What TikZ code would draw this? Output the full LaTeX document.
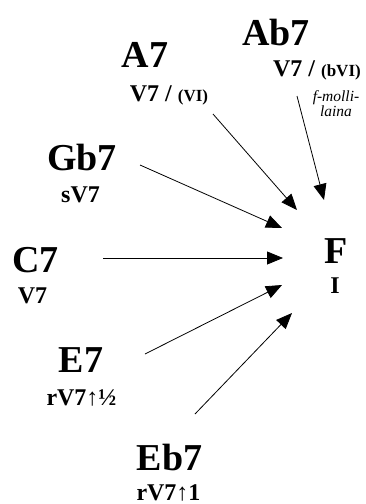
\documentclass[tikz,border=0pt]{standalone}
\usepackage{fontspec}
\setmainfont{Liberation Serif}
\usetikzlibrary{arrows.meta}
\tikzset{
chord/.style = {font = \bfseries\fontsize{38}{40}\selectfont, anchor = base, inner sep = 0pt},
func/.style = {font = \bfseries\fontsize{24}{26}\selectfont, anchor = base, inner sep = 0pt},
arr/.style = {-{Triangle[length=16pt,width=13pt]}, line width = 0.8pt}
}
\begin{document}
\begin{tikzpicture}[x = 1pt, y = -1pt]
\useasboundingbox (0,0) rectangle (365,504);
% target
\node [chord] (f) at (336,263) {F};
\node [func] (fi) at (335,293) {I};
% chords
\node [chord] (ab) at (276,45) {Ab7};
\node [func, anchor = base east] (abf) at (361,76) {V7 / {\fontsize{17}{18}\selectfont (bVI)}};
\node [font = \itshape\fontsize{15.5}{15}\selectfont, align = center, anchor = base, inner sep = 0pt] (abn) at (336,116) {f-molli-\\laina};
\node [chord] (a) at (145,67) {A7};
\node [func] (af) at (169,101) {V7 / {\fontsize{17}{18}\selectfont (VI)}};
\node [chord] (gb) at (82,170) {Gb7};
\node [func] (gbf) at (80.5,202) {sV7};
\node [chord] (c) at (35.5,272) {C7};
\node [func] (cf) at (32.5,303) {V7};
\node [chord] (e) at (81,372) {E7};
\node [func] (ef) at (81.5,405) {rV7↑½};
\node [chord] (eb) at (169.5,470) {Eb7};
\node [func] (ebf) at (168.5,500) {rV7↑1};
% arrow ends
\coordinate (ab-out) at (297,96);   \coordinate (ab-in) at (324,200);
\coordinate (a-out) at (213,114);   \coordinate (a-in) at (297,210);
\coordinate (gb-out) at (140,165);  \coordinate (gb-in) at (282,228);
\coordinate (c-out) at (103,258);   \coordinate (c-in) at (283,258);
\coordinate (e-out) at (145,354);   \coordinate (e-in) at (282,285);
\coordinate (eb-out) at (195,414);  \coordinate (eb-in) at (292,313);
\foreach \k in {ab,a,gb,c,e,eb}{
\draw [arr] (\k-out) -- (\k-in);
}
\end{tikzpicture}
\end{document}
